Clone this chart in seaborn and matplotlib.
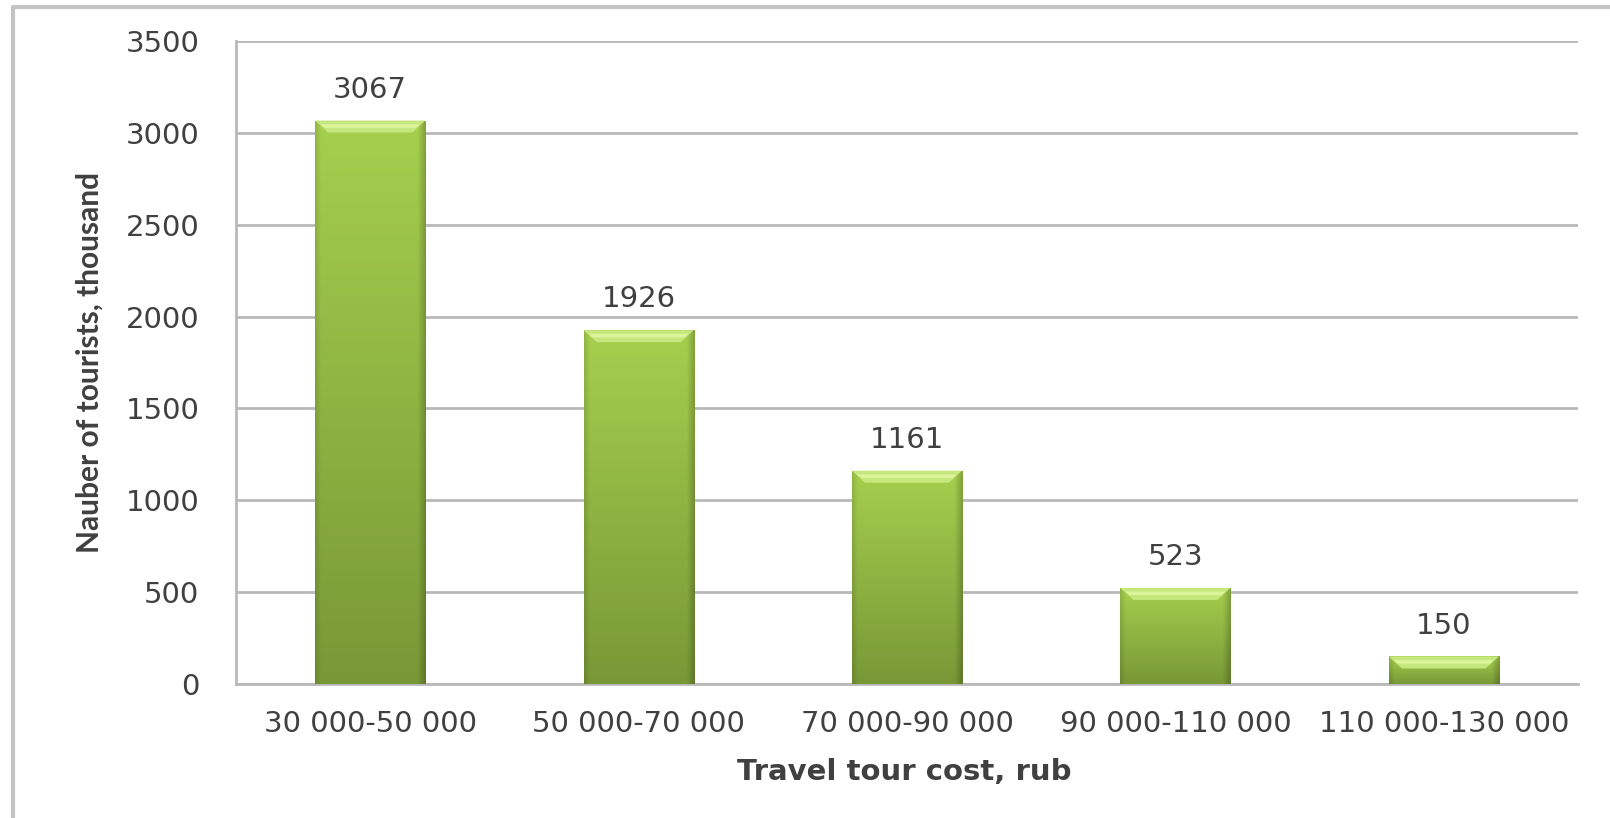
import numpy as np
import pandas as pd
import matplotlib
matplotlib.use("Agg")
import matplotlib.pyplot as plt
import seaborn as sns
from matplotlib.patches import Polygon
from matplotlib.lines import Line2D
from matplotlib.colors import to_rgb

# ---- data ----
categories = ["30 000-50 000", "50 000-70 000", "70 000-90 000",
              "90 000-110 000", "110 000-130 000"]
tourists = [3067, 1926, 1161, 523, 150]
y_ticks = [0, 500, 1000, 1500, 2000, 2500, 3000, 3500]
x_label = "Travel tour cost, rub"
y_label = "Nauber of tourists, thousand"

# ---- style ----
sns.set_theme(style="white")
plt.rcParams['font.family'] = ['DejaVu Sans']
TXT = "#404040"
GRID = "#b9b9b9"

W, H = 1610, 818
fig = plt.figure(figsize=(W / 100, H / 100), dpi=100)
ax_l, ax_r, ax_b, ax_t = 236, 1578, 684, 41
ax = fig.add_axes([ax_l / W, 1 - ax_b / H, (ax_r - ax_l) / W, (ax_b - ax_t) / H])

df = pd.DataFrame({"cost": categories, "tourists": tourists})
sns.barplot(data=df, x="cost", y="tourists", color="#92bd45", saturation=1,
            width=0.41, ax=ax, zorder=3, edgecolor="none")

ax.set_xlim(-0.5, len(categories) - 0.5)
ax.set_ylim(y_ticks[0], y_ticks[-1])
ax.set_yticks(y_ticks)

# grid + spines
ax.set_axisbelow(True)
ax.yaxis.grid(True, color=GRID, lw=2)
ax.xaxis.grid(False)
for s in ["top", "right"]:
    ax.spines[s].set_visible(False)
for s in ["left", "bottom"]:
    ax.spines[s].set_color(GRID)
    ax.spines[s].set_linewidth(2)

# ticks
ax.tick_params(axis="y", which="major", direction="out", length=9.4, width=2,
               color=GRID, pad=17, labelsize=21, labelcolor=TXT)
ax.tick_params(axis="x", which="major", length=0, pad=19, labelsize=21, labelcolor=TXT)
ax.set_xticks(np.arange(-0.5, len(categories), 1.0), minor=True)
ax.tick_params(axis="x", which="minor", direction="out", length=6, width=2, color=GRID)

# bar shading: vertical gradient + darker edges + top bevel
top_c = np.array(to_rgb("#a6cf4e"))
bot_c = np.array(to_rgb("#789836"))
px_x = (len(categories)) / (ax_r - ax_l)
px_y = (y_ticks[-1] - y_ticks[0]) / (ax_b - ax_t)
for p in list(ax.patches):
    x0, y0, w, h = p.get_x(), p.get_y(), p.get_width(), p.get_height()
    ny, nx = 200, 120
    t = np.linspace(0, 1, ny)[:, None]
    u = np.linspace(0, 1, nx)[None, :]
    base = top_c[None, None, :] * (1 - t[..., None]) + bot_c[None, None, :] * t[..., None]
    edge_r = np.clip((u - 0.93) / 0.07, 0, 1)
    edge_l = np.clip((0.05 - u) / 0.05, 0, 1)
    shade = 1 - 0.22 * edge_r - 0.12 * edge_l
    img = np.clip(base * shade[..., None], 0, 1)
    im = ax.imshow(img, extent=[x0, x0 + w, y0, y0 + h], aspect="auto",
                   origin="upper", zorder=3.2, interpolation="bilinear")
    im.set_clip_path(p)
    top = y0 + h
    dy = 12 * px_y
    dx = 13 * px_x
    bevel = Polygon([(x0, top), (x0 + w, top), (x0 + w - dx, top - dy), (x0 + dx, top - dy)],
                    closed=True, facecolor="#c6e67e", edgecolor="none", zorder=3.4)
    ax.add_patch(bevel)
    strip = Polygon([(x0 + dx * 0.4, top - dy * 0.3), (x0 + w - dx * 0.4, top - dy * 0.3),
                     (x0 + w - dx * 0.7, top - dy * 0.6), (x0 + dx * 0.7, top - dy * 0.6)],
                    closed=True, facecolor="#dcf59a", edgecolor="none", zorder=3.5)
    ax.add_patch(strip)

ax.set_xlim(-0.5, len(categories) - 0.5)
ax.set_ylim(y_ticks[0], y_ticks[-1])

# value labels
ax.bar_label(ax.containers[0], labels=[str(v) for v in tourists], padding=12,
             fontsize=21, color=TXT)

# axis labels
ax.set_xlabel(x_label, fontsize=21, fontweight="bold", color=TXT, va="center")
ax.xaxis.set_label_coords((904 - ax_l) / (ax_r - ax_l), -(772 - ax_b) / (ax_b - ax_t))
ax.set_ylabel(y_label, fontsize=21.5, fontweight="bold", color=TXT, va="center",
              family=["Lato", "DejaVu Sans"])
ax.yaxis.set_label_coords(-(ax_l - 90) / (ax_r - ax_l), 0.5)

# outer frame (top and left only)
fig.add_artist(Line2D([13 / W, 13 / W], [0, 1 - 7 / H], transform=fig.transFigure,
                      color="#c4c4c4", lw=3))
fig.add_artist(Line2D([13 / W, 1], [1 - 7 / H, 1 - 7 / H], transform=fig.transFigure,
                      color="#c4c4c4", lw=3))

fig.savefig("out.png", dpi=100, facecolor="white")
